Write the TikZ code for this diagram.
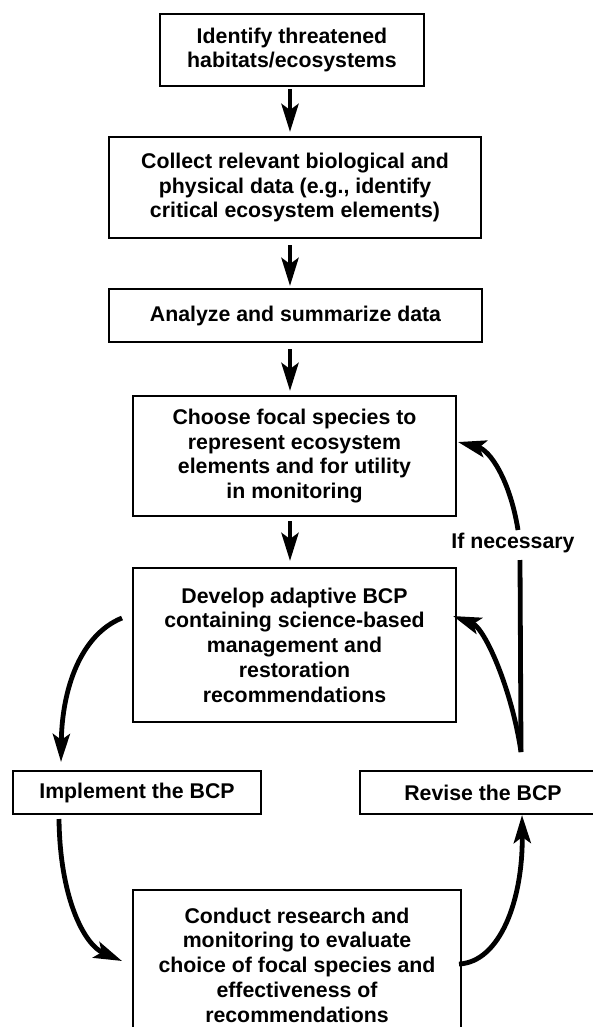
\documentclass[tikz,border=0pt]{standalone}
\usepackage{fontspec}
\setmainfont{Liberation Sans}
\usetikzlibrary{arrows.meta}
\begin{document}
\begin{tikzpicture}[x=1pt,y=-1pt,
  box/.style={draw, line width=2pt, align=center, inner sep=0pt,
    font=\bfseries\fontsize{21.3}{24.7}\selectfont},
  lbl/.style={inner sep=0pt, font=\bfseries\fontsize{21.3}{24.7}\selectfont},
  arr/.style={line width=4.8pt, -{Stealth[length=28pt,width=17pt,inset=6pt]}},
  conn/.style={line width=4.8pt}]
\useasboundingbox (0,0) rectangle (592,1027);
\node[box, minimum width=264pt, minimum height=72pt] (b1) at (292,50)
  {Identify threatened\\habitats/ecosystems};
\node[box, minimum width=372pt, minimum height=101pt] (b2) at (295,187.5)
  {Collect relevant biological and\\physical data (e.g., identify\\critical ecosystem elements)};
\node[box, minimum width=373pt, minimum height=53pt] (b3) at (295.5,315.5)
  {Analyze and summarize data};
\node[box, minimum width=323pt, minimum height=120pt] (b4) at (294.5,456)
  {Choose focal species to\\represent ecosystem\\elements and for utility\\in monitoring};
\node[box, minimum width=323pt, minimum height=154pt] (b5) at (294.5,645)
  {Develop adaptive BCP\\containing science-based\\management and\\restoration\\recommendations};
\node[box, minimum width=248pt, minimum height=43pt] (impl) at (137,792.5)
  {Implement the BCP};
\node[box, minimum width=246pt, minimum height=43pt] (rev) at (483,792.5)
  {Revise the BCP};
\node[box, minimum width=328pt, minimum height=150pt] (cond) at (297,965)
  {Conduct research and\\monitoring to evaluate\\choice of focal species and\\effectiveness of\\recommendations};
\node[lbl, anchor=base] (lab) at (513,548) {If necessary};

\coordinate (ax) at (290,0);
\draw[arr, shorten <=2pt, shorten >=4pt] (b1.south -| ax) -- (b2.north -| ax);
\draw[arr, shorten <=6pt, shorten >=2pt] (b2.south -| ax) -- (b3.north -| ax);
\draw[arr, shorten <=6pt, shorten >=4pt] (b3.south -| ax) -- (b4.north -| ax);
\draw[arr, shorten <=4pt, shorten >=6pt] (b4.south -| ax) -- (b5.north -| ax);

% Develop -> Implement
\draw[arr] ([shift={(-10,51)}]b5.north west) .. controls (80,635) and (62,690) ..
  ([shift={(49,-8)}]impl.north west);
% Implement -> Conduct
\draw[arr] ([shift={(47,4)}]impl.south west) .. controls (60,900) and (85,945) ..
  ([shift={(-10,72)}]cond.north west);
% Conduct -> Revise
\draw[arr] ([shift={(-3,75)}]cond.north east) .. controls (500,962) and (523,900) ..
  ([shift={(163,0)}]rev.south west);
% Revise -> Develop
\coordinate (rtop) at ([shift={(162,-18)}]rev.north west);
\draw[arr] (rtop) .. controls (512,690) and (485,628) ..
  ([shift={(-4,49)}]b5.north east);
% If necessary
\coordinate (fbot) at ([shift={(7,12)}]lab.base);
\coordinate (ftop) at ([shift={(5,-18)}]lab.base);
\draw[conn] (rtop) -- (fbot);
\draw[arr] (ftop) .. controls (510,480) and (490,450) ..
  ([shift={(1,47)}]b4.north east);
\end{tikzpicture}
\end{document}
